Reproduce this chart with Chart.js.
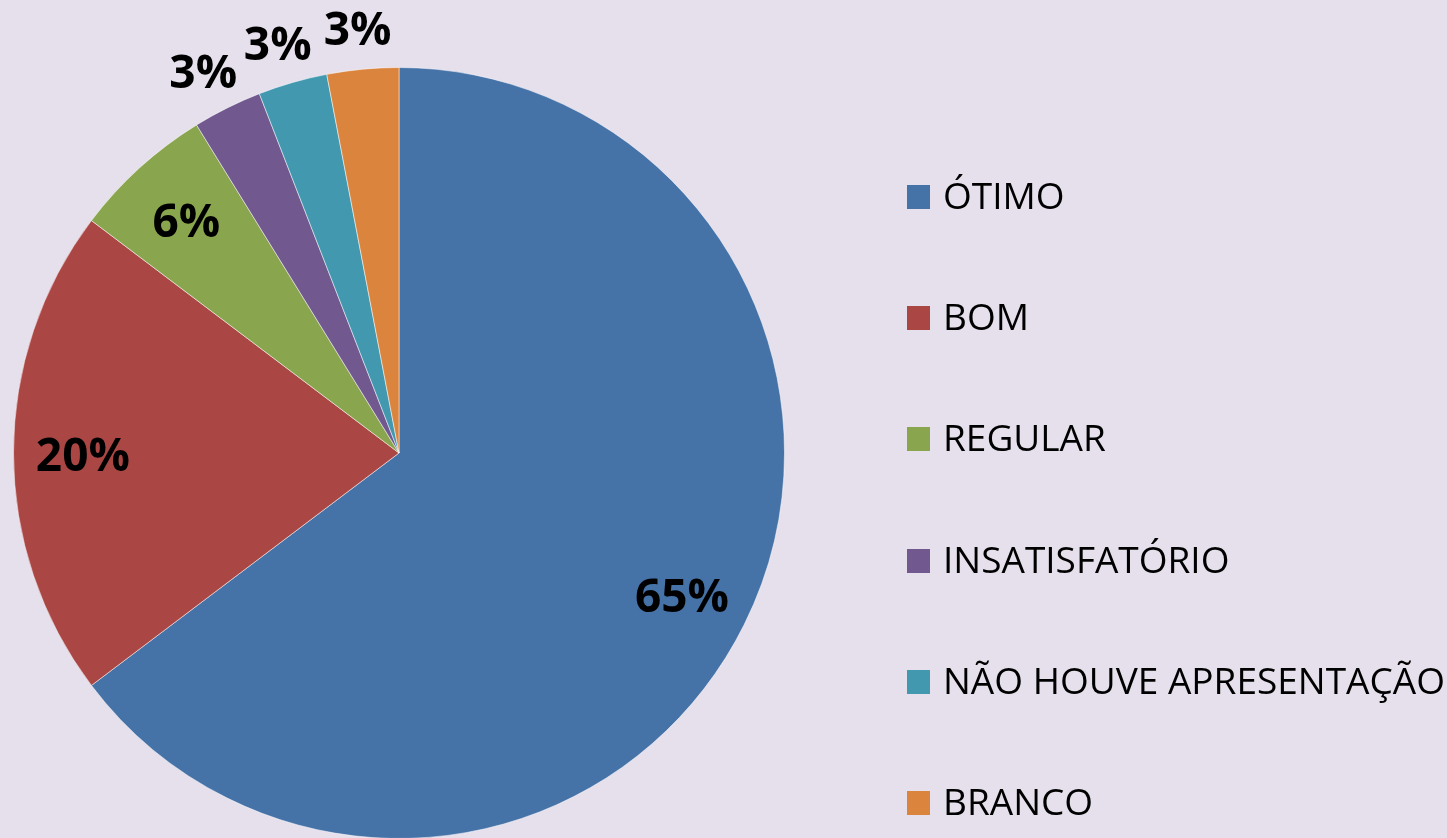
<!DOCTYPE html>
<html>
<head>
<meta charset="utf-8">
<script src="https://cdn.jsdelivr.net/npm/chart.js@4.4.1/dist/chart.umd.min.js"></script>
<style>
    html, body { margin: 0; padding: 0; background: #E6E0EC; overflow: hidden; }
    #wrap { position: absolute; left: 0; top: 0; width: 1447px; height: 900px; }
    #legenda { position: absolute; left: 0; top: 0; font-family: 'Open Sans', sans-serif; font-size: 37px; color: #000; }
    .item { position: absolute; left: 907px; white-space: nowrap; height: 40px; line-height: 40px; }
    .item span.box { position: absolute; left: 0; top: 10px; width: 23px; height: 24px; }
    .item span.txt { position: absolute; left: 36px; top: 0; }
</style>
</head>
<body>
<div id="wrap"><canvas id="graficoPizza"></canvas></div>
<div id="legenda"></div>
<script>
// dados
const categorias = ['ÓTIMO', 'BOM', 'REGULAR', 'INSATISFATÓRIO', 'NÃO HOUVE APRESENTAÇÃO', 'BRANCO'];
const valores = [64.7, 20.6, 5.9, 2.9, 2.9, 3.0];
const rotulos = ['65%', '20%', '6%', '3%', '3%', '3%'];
const cores = ['#4572A7', '#AA4643', '#89A54E', '#71588F', '#4198AF', '#DB843D'];

// rótulos de porcentagem (dentro / fora da fatia)
const rotulosPlugin = {
    id: 'rotulosPct',
    afterDraw(chart) {
        const ctx = chart.ctx;
        const arcs = chart.getDatasetMeta(0).data;
        ctx.save();
        ctx.font = 'bold 46px "Open Sans", sans-serif';
        ctx.fillStyle = '#000';
        ctx.textAlign = 'center';
        ctx.textBaseline = 'middle';
        arcs.forEach((arc, i) => {
            const p = arc.getProps(['x', 'y', 'startAngle', 'endAngle', 'outerRadius'], true);
            const meio = (p.startAngle + p.endAngle) / 2;
            const cx = Math.cos(meio), cy = Math.sin(meio);
            let x, y;
            if (valores[i] < 4) {
                // fora da fatia: caixa do texto encostada a uma distância fixa da borda
                const w = ctx.measureText(rotulos[i]).width;
                const d = p.outerRadius + 20;
                x = p.x + cx * d + cx * w / 2;
                y = p.y + cy * d + cy * 20 + 3;
            } else {
                x = p.x + cx * p.outerRadius * 0.82;
                y = p.y + cy * p.outerRadius * 0.82 + 5;
            }
            ctx.fillText(rotulos[i], x, y);
        });
        ctx.restore();
    }
};

new Chart(document.getElementById('graficoPizza'), {
    type: 'pie',
    data: {
        labels: categorias,
        datasets: [{
            data: valores,
            backgroundColor: cores,
            borderColor: 'rgba(255,255,255,0.5)',
            borderWidth: 1
        }]
    },
    options: {
        responsive: true,
        maintainAspectRatio: false,
        animation: false,
        layout: { padding: { left: 13, right: 662, top: 67, bottom: 61 } },
        plugins: {
            legend: { display: false },
            tooltip: { enabled: false }
        }
    },
    plugins: [rotulosPlugin]
});

// legenda à direita
const legenda = document.getElementById('legenda');
legenda.innerHTML = categorias.map((c, i) => `
    <div class="item" style="top:${175 + i * 121.2}px">
        <span class="box" style="background:${cores[i]}"></span>
        <span class="txt">${c}</span>
    </div>`).join('');
</script>
</body>
</html>
